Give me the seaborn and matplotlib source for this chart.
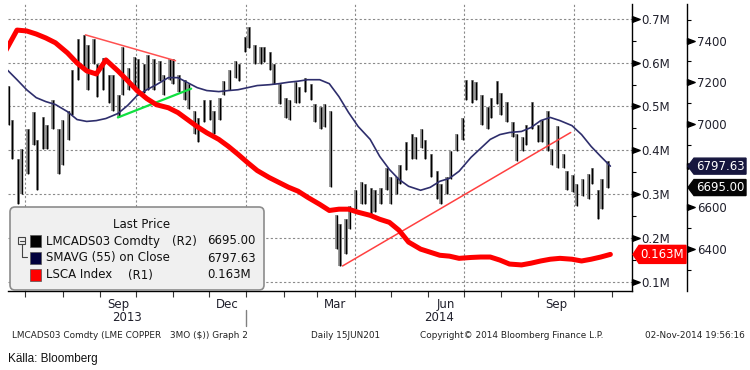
import numpy as np
import pandas as pd
import matplotlib
matplotlib.use("Agg")
import matplotlib.pyplot as plt
import matplotlib.dates as mdates
import matplotlib.transforms as mtransforms
from matplotlib.patches import FancyBboxPatch, Rectangle, Polygon
from matplotlib.lines import Line2D
import seaborn as sns

# LMCADS03 Comdty (copper 3M) - high/low every 3rd trading day from 17 Jun 2013
cu_high = [7180, 7020, 6830, 6880, 6975, 7055, 6925, 7035, 6995, 7115,
           6975, 7020, 7060, 7260, 7405, 7427, 7380, 7405, 7285, 7315,
           7235, 7235, 7140, 7370, 7270, 7320, 7310, 7285, 7330, 7310,
           7300, 7235, 7310, 7310, 7235, 7210, 7190, 7060, 7030, 7115,
           7115, 7060, 7125, 7205, 7260, 7300, 7285, 7415, 7465, 7380,
           7370, 7370, 7345, 7285, 7190, 7125, 7115, 7200, 7175, 7220,
           7190, 7095, 7080, 7095, 7060, 6565, 6520, 6545, 6605, 6685,
           6720, 6710, 6695, 6685, 6695, 6790, 6745, 6745, 6805, 6915,
           6950, 6935, 6975, 6925, 6855, 6775, 6710, 6745, 6870, 6950,
           7030, 7210, 7210, 7200, 7140, 7080, 7125, 7205, 7150, 7105,
           7010, 6950, 6935, 6995, 7105, 6995, 7020, 7060, 6880, 6990,
           6855, 6775, 6755, 6710, 6735, 6760, 6790, 6685, 6735, 6820]
cu_low = [6995, 6830, 6615, 6665, 6760, 6900, 6685, 6880, 6880, 6975,
          6760, 6805, 6925, 7045, 7210, 7260, 7165, 7285, 7130, 7165,
          7100, 7060, 7035, 7140, 7165, 7165, 7140, 7150, 7165, 7165,
          7205, 7140, 7210, 7190, 7155, 7115, 7070, 6950, 6915, 7010,
          7020, 6950, 7020, 7140, 7165, 7220, 7205, 7345, 7365, 7285,
          7285, 7295, 7260, 7190, 7095, 7030, 7020, 7100, 7100, 7155,
          7115, 7010, 6975, 6985, 6700, 6400, 6320, 6375, 6495, 6590,
          6615, 6615, 6565, 6580, 6615, 6685, 6615, 6665, 6710, 6780,
          6830, 6830, 6885, 6830, 6745, 6640, 6615, 6665, 6735, 6870,
          6925, 7115, 7100, 7115, 6995, 6975, 7030, 7095, 7045, 7010,
          6935, 6820, 6870, 6900, 6975, 6915, 6915, 6870, 6805, 6790,
          6790, 6685, 6675, 6605, 6655, 6640, 6710, 6545, 6590, 6695]
cu_last = 6695.00

# SMAVG(55) on close and LSCA Index (millions) - every 6th trading day from 14 Jun 2013
sma_vals = [7270, 7212, 7164, 7126, 7107, 7093, 7059, 7021, 7012, 7016,
            7026, 7050, 7088, 7136, 7164, 7188, 7222, 7222, 7198, 7174,
            7160, 7155, 7160, 7164, 7174, 7184, 7188, 7193, 7200, 7205,
            7212, 7212, 7193, 7131, 7055, 6988, 6926, 6844, 6782, 6734,
            6701, 6682, 6696, 6725, 6739, 6773, 6840, 6883, 6926, 6949,
            6959, 6964, 6983, 7016, 7031, 7016, 6992, 6949, 6892, 6844,
            6797.63]
lsca_vals = [0.624, 0.674, 0.672, 0.665, 0.656, 0.645, 0.622, 0.599, 0.581, 0.574,
             0.606, 0.581, 0.559, 0.536, 0.518, 0.504, 0.497, 0.486, 0.470, 0.454,
             0.440, 0.425, 0.409, 0.391, 0.372, 0.354, 0.338, 0.327, 0.316, 0.307,
             0.293, 0.277, 0.263, 0.266, 0.266, 0.259, 0.252, 0.243, 0.236, 0.218,
             0.191, 0.175, 0.168, 0.161, 0.159, 0.154, 0.156, 0.157, 0.157, 0.150,
             0.141, 0.139, 0.143, 0.148, 0.152, 0.154, 0.152, 0.148, 0.152, 0.157,
             0.163]

# hand drawn trend lines (date, price)
trend_top_dates = ["2013-08-20", "2013-11-03"]
trend_top_vals = [7427, 7303]
trend_green_dates = ["2013-09-16", "2013-11-16"]
trend_green_vals = [7031, 7169]
trend_low_dates = ["2014-03-22", "2014-09-28"]
trend_low_vals = [6319, 6959]

r1_ticks = [0.1, 0.2, 0.3, 0.4, 0.5, 0.6, 0.7]
r2_ticks = [6400, 6600, 6800, 7000, 7200, 7400]

bar_dates = pd.bdate_range("2013-06-17", periods=len(cu_high), freq="3B")
line_dates = pd.bdate_range("2013-06-14", periods=len(sma_vals), freq="6B")

sns.set_theme(style="white")
plt.rcParams["font.family"] = ["DejaVu Sans"]

W, H = 750, 370
fig = plt.figure(figsize=(W / 100, H / 100), dpi=100)
pix = mtransforms.Affine2D().scale(1, -1).translate(0, H)  # pixel coords from top-left

ax = fig.add_axes([8 / W, 1 - 291 / H, 624 / W, 287 / H])
ax1 = ax.twinx()

x0, x1 = pd.Timestamp("2013-06-16 12:00"), pd.Timestamp("2014-11-18")
ax.set_xlim(x0, x1)
ax.set_ylim(6199, 7575)
ax1.set_ylim(0.0796, 0.7334)

grid_kw = dict(color="#8a8a8a", lw=0.8, ls=(0, (2, 2)), zorder=0)
for d in pd.date_range("2013-07-01", "2014-10-01", freq="QS"):
    ax.axvline(d, **grid_kw)
hgrid = mtransforms.blended_transform_factory(ax.transAxes, ax1.transData)
for v in r1_ticks:
    ax.plot([0, 1], [v, v], transform=hgrid, **grid_kw)

# copper bars: grey range with a black stroke through it
hi = np.array(cu_high)
lo = np.array(cu_low)
ax.bar(bar_dates, hi - lo, bottom=lo, width=2.8, color="#9a9a9a",
       edgecolor="none", zorder=2)
ax.vlines(bar_dates, lo, hi, color="#000000", lw=1.0, zorder=2.1)

sns.lineplot(x=line_dates, y=sma_vals, ax=ax, color="#2e2e6c", lw=1.2, zorder=3)

ax.plot(pd.to_datetime(trend_top_dates), trend_top_vals, color="#ff5050", lw=1.1, zorder=4)
ax.plot(pd.to_datetime(trend_green_dates), trend_green_vals, color="#10e040", lw=1.6, zorder=4)
ax.plot(pd.to_datetime(trend_low_dates), trend_low_vals, color="#ff4040", lw=1.1, zorder=4)

sns.lineplot(x=line_dates, y=lsca_vals, ax=ax1, color="#ff0000", lw=3.6, zorder=3)
ax.set_xlabel("")
ax.set_ylabel("")
ax1.set_ylabel("")

# axes styling
for s in ["top", "left"]:
    ax.spines[s].set_visible(False)
    ax1.spines[s].set_visible(False)
ax1.spines["bottom"].set_visible(False)
ax.spines["bottom"].set_color("black")
ax.spines["bottom"].set_linewidth(1.0)
ax.spines["right"].set_position(("outward", 55 * 0.72))
ax.spines["right"].set_color("black")
ax.spines["right"].set_linewidth(1.0)
ax1.spines["right"].set_color("black")
ax1.spines["right"].set_linewidth(1.0)

lab_col = "#20202c"
ax.yaxis.tick_right()
ax.set_yticks(r2_ticks)
ax.set_yticks(np.arange(6300, 7600, 200), minor=True)
# the 6800 label sits under the SMAVG value tag, as in the source chart
ax.yaxis.set_major_formatter(matplotlib.ticker.FuncFormatter(
    lambda v, p: "" if round(v) == 6800 else f"{v:.0f}"))
ax.tick_params(axis="y", which="major", right=True, left=False, length=0, pad=7,
               labelsize=8.5, labelcolor=lab_col)
ax.tick_params(axis="y", which="minor", right=True, left=False, direction="out",
               length=3, width=0.8, color="black")

ax1.set_yticks(r1_ticks)
ax1.set_yticks(np.arange(0.15, 0.71, 0.1), minor=True)
ax1.yaxis.set_major_formatter(matplotlib.ticker.FuncFormatter(lambda v, p: f"{v:.1f}M"))
ax1.tick_params(axis="y", which="major", right=True, length=0, pad=7,
                labelsize=8.5, labelcolor=lab_col)
ax1.tick_params(axis="y", which="minor", right=True, direction="out",
                length=3, width=0.8, color="black")

tri = [(0, -0.75), (2, 0), (0, 0.75), (0, -0.75)]
t1 = mtransforms.blended_transform_factory(ax1.transAxes, ax1.transData)
ax1.plot([1] * len(r1_ticks), r1_ticks, transform=t1, marker=tri, ms=11,
         color="black", ls="none", clip_on=False, zorder=6)
t2 = mtransforms.offset_copy(mtransforms.blended_transform_factory(ax.transAxes, ax.transData),
                             fig=fig, x=55, y=0, units="dots")
ax.plot([1] * len(r2_ticks), r2_ticks, transform=t2, marker=tri, ms=11,
        color="black", ls="none", clip_on=False, zorder=6)

ax.xaxis.set_major_locator(mdates.MonthLocator())
ax.xaxis.set_major_formatter(matplotlib.ticker.NullFormatter())
ax.xaxis.set_minor_locator(mdates.MonthLocator(bymonth=[3, 6, 9, 12], bymonthday=16))
ax.xaxis.set_minor_formatter(mdates.DateFormatter("%b"))
ax.tick_params(axis="x", which="major", bottom=True, direction="out", length=4,
               width=0.8, color="#333333")
ax.tick_params(axis="x", which="minor", bottom=True, length=0, pad=5,
               labelsize=8.5, labelcolor=lab_col)

xt = mtransforms.blended_transform_factory(ax.transData, ax.transAxes)
jan = pd.Timestamp("2014-01-01")
ax.plot([jan, jan], [-0.066, -0.122], transform=xt, color="#808080", lw=1.0, clip_on=False)
ax.text(x0 + (jan - x0) / 2, -0.094, "2013", transform=xt, ha="center", va="center",
        fontsize=8.5, color=lab_col)
ax.text(jan + (x1 - jan) / 2, -0.094, "2014", transform=xt, ha="center", va="center",
        fontsize=8.5, color=lab_col)

# value tags on the right
def tag(axis, val, xa, xb, h, color, text):
    yd = mtransforms.blended_transform_factory(axis.transAxes, axis.transData).transform((1, val))[1]
    yc = H - yd
    poly = Polygon([(xa, yc), (xa + 6, yc - h / 2), (xb, yc - h / 2), (xb, yc + h / 2),
                    (xa + 6, yc + h / 2)], closed=True, transform=pix,
                   facecolor=color, edgecolor=color, zorder=10)
    fig.add_artist(poly)
    fig.text((xa + 6 + xb) / 2, yc, text, transform=pix, ha="center", va="center",
             color="white", fontsize=8.5, zorder=11)

fig.canvas.draw()
tag(ax, sma_vals[-1], 688, 746, 16, "#16163e", f"{sma_vals[-1]:.2f}")
tag(ax, cu_last, 688, 746, 16, "#050505", f"{cu_last:.2f}")
tag(ax1, lsca_vals[-1], 633, 686, 18, "#ff0000", f"{lsca_vals[-1]:.3f}M")

# legend box
fig.add_artist(FancyBboxPatch((10, 207), 254, 83, boxstyle="round,pad=0,rounding_size=5",
                              transform=pix, facecolor="#f0f0f0", edgecolor="#8c8c8c",
                              lw=1.2, zorder=8))
fig.text(142, 224, "Last Price", transform=pix, ha="center", va="center", fontsize=8.5,
         color="#111111", zorder=9)
rows = [("LMCADS03 Comdty", "(R2)", f"{cu_last:.2f}", "#000000", 172),
        ("SMAVG (55) on Close", "", f"{sma_vals[-1]:.2f}", "#00003c", 0),
        ("LSCA Index", "(R1)", f"{lsca_vals[-1]:.3f}M", "#ff0000", 128)]
for k, (name, side, val, col, xs) in enumerate(rows):
    yc = 241 + 17 * k
    fig.add_artist(Rectangle((29.5, yc - 6), 11.5, 12, transform=pix, facecolor=col,
                             edgecolor="#555555", lw=0.5, zorder=9))
    fig.text(46, yc, name, transform=pix, ha="left", va="center", fontsize=8.5,
             color="#111111", zorder=9)
    if side:
        fig.text(xs, yc, side, transform=pix, ha="left", va="center", fontsize=8.5,
                 color="#111111", zorder=9)
    fig.text(207, yc, val, transform=pix, ha="left", va="center", fontsize=8.5,
             color="#111111", zorder=9)
fig.add_artist(Rectangle((18, 237), 7, 7, transform=pix, facecolor="#f0f0f0",
                         edgecolor="#444444", lw=0.8, zorder=9))
fig.add_artist(Line2D([19.5, 23.5], [240.5, 240.5], transform=pix, color="#444444", lw=0.8, zorder=9))
fig.add_artist(Line2D([21.5, 21.5, 27], [244, 257, 257], transform=pix, color="#444444", lw=0.8, zorder=9))

# footer
foot = dict(transform=pix, va="center", fontsize=6.4, color="#222222")
fig.text(12, 335, "LMCADS03 Comdty (LME COPPER", ha="left", **foot)
fig.text(170, 335, "3MO ($)) Graph 2", ha="left", **foot)
fig.text(311, 335, "Daily 15JUN201", ha="left", **foot)
fig.text(420, 335, "Copyright\u00a9 2014 Bloomberg Finance L.P.", ha="left", **foot)
fig.text(745, 335, "02-Nov-2014 19:56:16", ha="right", **foot)
fig.text(8, 359, "K\u00e4lla: Bloomberg", transform=pix, ha="left", va="center", fontsize=8.5,
         color="#111111", family=["Liberation Sans Narrow", "Liberation Sans", "DejaVu Sans"])

fig.savefig("out.png", dpi=100)
